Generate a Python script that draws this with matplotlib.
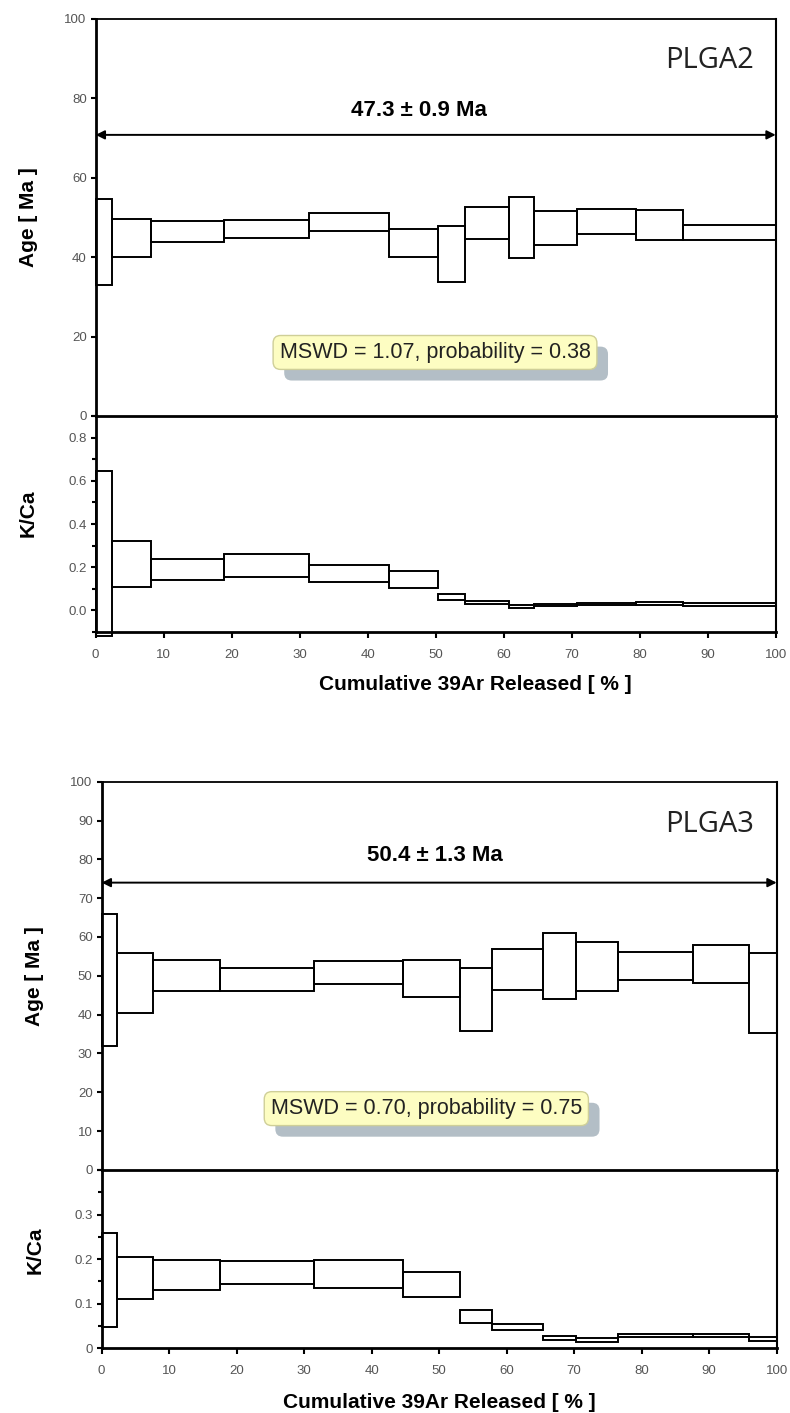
#!/usr/bin/env python3
"""Ar-Ar age spectra with K/Ca panels for PLGA2 and PLGA3."""
import numpy as np
import matplotlib
matplotlib.use("Agg")
import matplotlib.pyplot as plt
import matplotlib.patheffects as pe
from matplotlib.ticker import MultipleLocator, FormatStrFormatter, FuncFormatter

plt.rcParams["font.family"] = ["Liberation Sans", "DejaVu Sans"]

# ---- PLGA2 ----
p2_edges = [0, 2.35, 8.1, 18.9, 31.3, 43.1, 50.4, 54.3, 60.8, 64.4, 70.8, 79.5, 86.4, 100]
p2_age_hi = [54.7, 49.5, 49.2, 49.4, 51.2, 47.2, 47.9, 52.6, 55.1, 51.6, 52.1, 52.0, 48.0]
p2_age_lo = [33.0, 40.1, 43.7, 44.9, 46.7, 40.0, 33.8, 44.5, 39.7, 43.1, 45.8, 44.3, 44.3]
p2_kca_hi = [0.645, 0.321, 0.239, 0.262, 0.210, 0.182, 0.074, 0.043, 0.023, 0.028, 0.036, 0.037, 0.036]
p2_kca_lo = [-0.119, 0.108, 0.140, 0.156, 0.133, 0.102, 0.046, 0.031, 0.009, 0.019, 0.023, 0.026, 0.020]
p2_plateau = 70.8
p2_label = "47.3 ± 0.9 Ma"
p2_mswd = "MSWD = 1.07, probability = 0.38"

# ---- PLGA3 ----
p3_edges = [0, 2.3, 7.55, 17.5, 31.5, 44.7, 53.1, 57.9, 65.4, 70.2, 76.5, 87.6, 95.9, 100]
p3_age_hi = [65.9, 55.9, 54.2, 52.0, 53.7, 54.1, 52.1, 56.9, 61.0, 58.8, 56.2, 57.9, 55.8]
p3_age_lo = [31.8, 40.5, 46.2, 46.2, 47.8, 44.5, 35.8, 46.4, 44.0, 46.1, 48.9, 48.1, 35.2]
p3_kca_hi = [0.259, 0.205, 0.198, 0.196, 0.199, 0.170, 0.086, 0.054, 0.028, 0.022, 0.032, 0.032, 0.025]
p3_kca_lo = [0.047, 0.110, 0.130, 0.144, 0.136, 0.114, 0.056, 0.042, 0.019, 0.015, 0.025, 0.025, 0.017]
p3_plateau = 74.0
p3_label = "50.4 ± 1.3 Ma"
p3_mswd = "MSWD = 0.70, probability = 0.75"

TICK_GRAY = "#555555"


def boxes(ax, edges, lo, hi):
    edges = np.asarray(edges)
    lo = np.asarray(lo)
    hi = np.asarray(hi)
    ax.bar(edges[:-1], hi - lo, width=np.diff(edges), bottom=lo, align="edge",
           fill=False, edgecolor="black", linewidth=1.4, clip_on=False, zorder=3)


def style(ax):
    ax.spines["left"].set_linewidth(2.0)
    ax.spines["bottom"].set_linewidth(1.8)
    ax.spines["top"].set_linewidth(1.3)
    ax.spines["right"].set_linewidth(1.5)
    ax.tick_params(axis="y", which="both", direction="out", length=3.5, width=1.5,
                   labelsize=9.5, labelcolor=TICK_GRAY, pad=3)
    ax.tick_params(axis="y", which="minor", length=3)


def draw(fig, rect_age, rect_kca, edges, age_lo, age_hi, kca_lo, kca_hi,
         age_step, kca_lim, kca_major, kca_minor, kca_fmt, plateau, label,
         label_xy, name, name_xy, mswd, mswd_xy, xlabel_xy):
    ax2 = fig.add_axes(rect_kca)
    ax1 = fig.add_axes(rect_age, sharex=ax2)
    ax1.patch.set_alpha(0)
    ax2.patch.set_alpha(0)

    boxes(ax1, edges, age_lo, age_hi)
    ax1.set_xlim(0, 100)
    ax1.set_ylim(0, 100)
    ax1.yaxis.set_major_locator(MultipleLocator(age_step))
    ax1.yaxis.set_major_formatter(FormatStrFormatter("%d"))
    ax1.tick_params(axis="x", which="both", bottom=False, labelbottom=False)
    style(ax1)
    ax1.spines["bottom"].set_linewidth(2.0)
    ax1.set_ylabel("Age [ Ma ]", fontsize=15, fontweight="bold")
    ax1.yaxis.set_label_coords(-0.085, 0.5)

    ax1.annotate("", xy=(100, plateau), xytext=(0, plateau),
                 arrowprops=dict(arrowstyle="<|-|>", color="black", lw=1.4,
                                 mutation_scale=13, shrinkA=0, shrinkB=0))
    ax1.text(label_xy[0], label_xy[1], label, ha="center", va="center",
             fontsize=16, fontweight="bold")
    ax1.text(name_xy[0], name_xy[1], name, ha="center", va="center",
             fontsize=21, family=["Open Sans", "DejaVu Sans"], color="#222222")
    t = ax1.text(mswd_xy[0], mswd_xy[1], mswd, ha="center", va="center",
                 fontsize=15.5, color="#222222", zorder=5,
                 bbox=dict(boxstyle="round,pad=0.3,rounding_size=0.35",
                           facecolor="#fdfdc2", edgecolor="#cfcf98", linewidth=1))
    t.get_bbox_patch().set_path_effects([
        pe.SimplePatchShadow(offset=(8, -8), shadow_rgbFace="#b3bec6", alpha=1.0),
        pe.Normal()])

    boxes(ax2, edges, kca_lo, kca_hi)
    ax2.set_ylim(*kca_lim)
    ax2.yaxis.set_major_locator(MultipleLocator(kca_major))
    ax2.yaxis.set_minor_locator(MultipleLocator(kca_minor))
    ax2.yaxis.set_major_formatter(kca_fmt)
    ax2.xaxis.set_major_locator(MultipleLocator(10))
    style(ax2)
    ax2.spines["top"].set_visible(False)
    ax2.spines["bottom"].set_linewidth(2.0)
    ax2.tick_params(axis="x", direction="out", length=4, width=1.5,
                    labelsize=9.5, labelcolor=TICK_GRAY, pad=8)
    ax2.set_ylabel("K/Ca", fontsize=15, fontweight="bold")
    ax2.yaxis.set_label_coords(-0.085, 0.55)
    ax2.set_xlabel("Cumulative 39Ar Released [ % ]", fontsize=15, fontweight="bold")
    ax2.xaxis.set_label_coords(*xlabel_xy)
    return ax1, ax2


def kca_top_fmt(v, pos):
    return "%.1f" % v


def kca_bot_fmt(v, pos):
    if abs(v) < 1e-9:
        return "0"
    if v > 0.35:
        return ""
    return "%.1f" % v


def main():
    fig = plt.figure(figsize=(7.9, 14.13), dpi=100)

    draw(fig, [0.1211, 0.7056, 0.8608, 0.2810], [0.1211, 0.5527, 0.8608, 0.1529],
         p2_edges, p2_age_lo, p2_age_hi, p2_kca_lo, p2_kca_hi,
         age_step=20, kca_lim=(-0.1, 0.9), kca_major=0.2, kca_minor=0.1,
         kca_fmt=FuncFormatter(kca_top_fmt), plateau=p2_plateau, label=p2_label,
         label_xy=(47.5, 77.0), name="PLGA2", name_xy=(90.3, 89.5),
         mswd=p2_mswd, mswd_xy=(49.9, 16.0), xlabel_xy=(0.558, -0.2))

    draw(fig, [0.1287, 0.1720, 0.8544, 0.2748], [0.1287, 0.0458, 0.8544, 0.1262],
         p3_edges, p3_age_lo, p3_age_hi, p3_kca_lo, p3_kca_hi,
         age_step=10, kca_lim=(0.0, 0.4), kca_major=0.1, kca_minor=0.05,
         kca_fmt=FuncFormatter(kca_bot_fmt), plateau=p3_plateau, label=p3_label,
         label_xy=(49.4, 81.0), name="PLGA3", name_xy=(90.1, 89.0),
         mswd=p3_mswd, mswd_xy=(48.1, 15.8), xlabel_xy=(0.5, -0.25))

    fig.savefig("out.png", dpi=100, facecolor="white")
    plt.close(fig)


if __name__ == "__main__":
    main()
